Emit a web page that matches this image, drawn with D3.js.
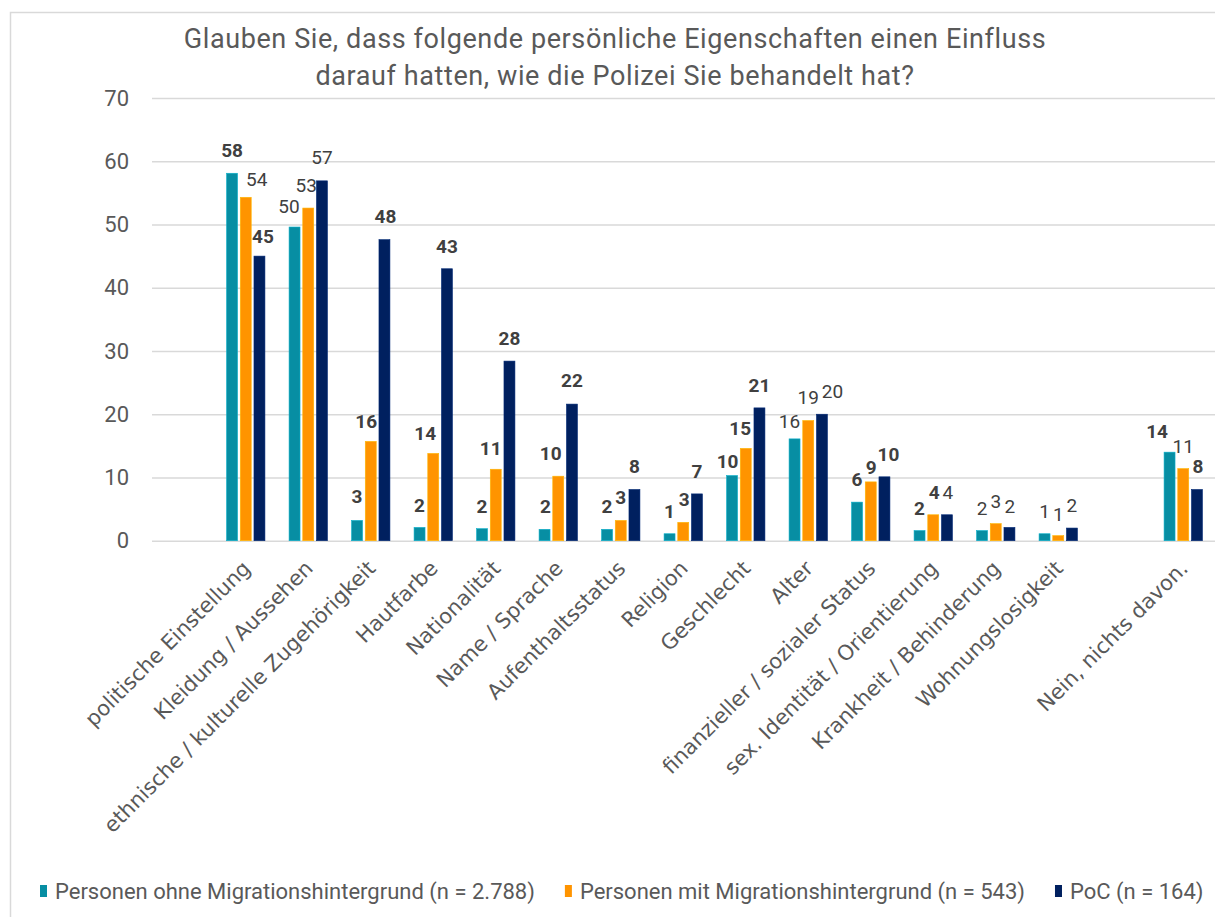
<!DOCTYPE html>
<html>
<head>
<meta charset="utf-8">
<script src="https://cdn.jsdelivr.net/npm/d3@7"></script>
<style>
  body { margin: 0; background: #fff; }
  svg { display: block; font-family: Roboto, "Liberation Sans", sans-serif; }
</style>
</head>
<body>
<div id="chart"></div>
<script>
// categories, empty strings are the blank slots on the axis
var categories = ["", "politische Einstellung", "Kleidung / Aussehen",
    "ethnische / kulturelle Zugehörigkeit", "Hautfarbe", "Nationalität",
    "Name / Sprache", "Aufenthaltsstatus", "Religion", "Geschlecht", "Alter",
    "finanzieller / sozialer Status", "sex. Identität / Orientierung",
    "Krankheit / Behinderung", "Wohnungslosigkeit", "", "Nein, nichts davon."];

var seriesNames = ["Personen ohne Migrationshintergrund (n = 2.788)",
    "Personen mit Migrationshintergrund (n = 543)",
    "PoC (n = 164)"];

// percentages per series (null = no bar)
var ohneMigration = [null, 58.1, 49.6, 3.2, 2.1, 1.9, 1.8, 1.8, 1.1, 10.3, 16.1, 6.1, 1.6, 1.6, 1.1, null, 14.0];
var mitMigration  = [null, 54.3, 52.6, 15.7, 13.8, 11.3, 10.2, 3.2, 2.9, 14.6, 19.0, 9.3, 4.1, 2.7, 0.8, null, 11.4];
var poc           = [null, 45.0, 56.9, 47.6, 43.0, 28.4, 21.6, 8.1, 7.4, 21.0, 20.0, 10.1, 4.1, 2.1, 2.0, null, 8.1];

// which value labels are printed bold
var boldOhne = [0, 1, 0, 1, 1, 1, 1, 1, 1, 1, 0, 1, 1, 0, 0, 0, 1];
var boldMit  = [0, 0, 0, 1, 1, 1, 1, 1, 1, 1, 0, 1, 1, 0, 0, 0, 0];
var boldPoc  = [0, 1, 0, 1, 1, 1, 1, 1, 1, 1, 0, 1, 0, 0, 0, 0, 1];

var yTicks = [0, 10, 20, 30, 40, 50, 60, 70];

var titleLines = ["Glauben Sie, dass folgende persönliche Eigenschaften einen Einfluss",
    "darauf hatten, wie die Polizei Sie behandelt hat?"];

var colors = ["#078ea3", "#ff9400", "#00205f"];

// hand nudges for the value labels [dx, dy], like the moved labels in the original
var labelNudge = [
    [[0, 0], [0, 0], [0, 0]],
    [[0, 0], [11, 5], [3.5, 3]],
    [[-5.5, 2], [-2, 0], [0, -1]],
    [[0, -1], [-4.5, 3], [1, -1]],
    [[0, 1], [-8, 2.5], [0, 0]],
    [[0, 0], [-5, 2], [0, 0]],
    [[1, 0], [-7.5, -0.5], [0, -1]],
    [[0, 0], [0, 0], [0, 0]],
    [[0, 0], [1, 0], [0, 0]],
    [[-4.5, 8.5], [-5.5, 2.5], [0, 0.5]],
    [[-5, 5], [0, -1], [10.5, 0]],
    [[0, 0], [0.5, 8], [4, 0]],
    [[0, 0], [1, 0], [1, 0]],
    [[0, 0], [0, 0], [0.5, 2]],
    [[0, 0.5], [0, 1], [0, 0]],
    [[0, 0], [0, 0], [0, 0]],
    [[-12.5, 2], [0, 0], [1, 0]]
];

var width = 1215, height = 917;
var series = [ohneMigration, mitMigration, poc];
var bolds = [boldOhne, boldMit, boldPoc];

var svg = d3.select("#chart").append("svg")
    .attr("width", width)
    .attr("height", height);

// outer frame
svg.append("rect")
    .attr("x", 10.5).attr("y", 12.5)
    .attr("width", 1400).attr("height", 1200)
    .attr("fill", "none")
    .attr("stroke", "#d9d9d9")
    .attr("stroke-width", 1.5);

var x = d3.scaleBand()
    .domain(d3.range(categories.length))
    .range([152, 1214.5]);

var xSub = d3.scaleBand()
    .domain([0, 1, 2])
    .range([0, 41.1])
    .paddingInner(0.2)
    .paddingOuter(0.1);

var y = d3.scaleLinear()
    .domain([0, 70])
    .range([540.7, 98]);

function groupStart(i) {
    return x(i) + x.bandwidth() / 2 - 20.55;
}

// y axis with gridlines
var yAxis = svg.append("g")
    .attr("transform", "translate(152,0)")
    .call(d3.axisLeft(y).tickValues(yTicks).tickSize(-(width - 152)).tickPadding(23));
yAxis.select(".domain").remove();
yAxis.selectAll(".tick line")
    .attr("stroke", "#d9d9d9")
    .attr("stroke-width", 1.5);
yAxis.selectAll(".tick text")
    .attr("fill", "#595959")
    .style("font-size", "22px")
    .style("font-family", "Roboto, sans-serif");

// x axis, rotated labels
var xAxis = svg.append("g")
    .attr("transform", "translate(0," + y(0) + ")")
    .call(d3.axisBottom(x).tickSize(0).tickFormat(function(i) { return categories[i]; }));
xAxis.select(".domain").remove();
xAxis.selectAll(".tick text")
    .attr("x", 0).attr("y", 0).attr("dy", 0)
    .attr("text-anchor", "end")
    .attr("transform", "translate(6,29) rotate(-45)")
    .attr("fill", "#595959")
    .style("font-size", "21px")
    .style("font-family", "'DejaVu Sans', sans-serif");

// bars
series.forEach(function(vals, s) {
    var g = svg.append("g");
    var pts = vals.map(function(v, i) { return {i: i, v: v}; })
        .filter(function(d) { return d.v !== null; });

    g.selectAll("rect")
        .data(pts)
        .enter()
        .append("rect")
        .attr("x", function(d) { return groupStart(d.i) + xSub(s); })
        .attr("y", function(d) { return y(d.v); })
        .attr("width", xSub.bandwidth())
        .attr("height", function(d) { return y(0) - y(d.v); })
        .attr("fill", colors[s])
        .attr("stroke", d3.color(colors[s]).brighter(0.6))
        .attr("stroke-width", 0.6);

    g.selectAll("text")
        .data(pts)
        .enter()
        .append("text")
        .attr("x", function(d) { return groupStart(d.i) + xSub(s) + xSub.bandwidth() / 2 + labelNudge[d.i][s][0]; })
        .attr("y", function(d) { return y(d.v) - 16 + labelNudge[d.i][s][1]; })
        .attr("text-anchor", "middle")
        .attr("fill", "#404040")
        .style("font-size", "19px")
        .style("font-weight", function(d) { return bolds[s][d.i] ? "bold" : "normal"; })
        .text(function(d) { return Math.round(d.v); });
});

// title
svg.append("g").selectAll("text")
    .data(titleLines)
    .enter()
    .append("text")
    .attr("x", 615)
    .attr("y", function(d, i) { return 48 + i * 37; })
    .attr("text-anchor", "middle")
    .attr("fill", "#595959")
    .style("font-size", "27px")
    .style("letter-spacing", "0.6px")
    .text(function(d) { return d; });

// legend
var legend = svg.append("g").attr("transform", "translate(40,891)");
var lx = 0;
seriesNames.forEach(function(name, s) {
    var item = legend.append("g").attr("transform", "translate(" + lx + ",0)");
    item.append("rect")
        .attr("x", 0).attr("y", -6)
        .attr("width", 7).attr("height", 12)
        .attr("fill", colors[s]);
    var t = item.append("text")
        .attr("x", 15).attr("y", 0)
        .attr("dy", "0.35em")
        .attr("fill", "#595959")
        .style("font-size", "22px")
        .text(name);
    lx += 15 + t.node().getComputedTextLength() + 30;
});
</script>
</body>
</html>
